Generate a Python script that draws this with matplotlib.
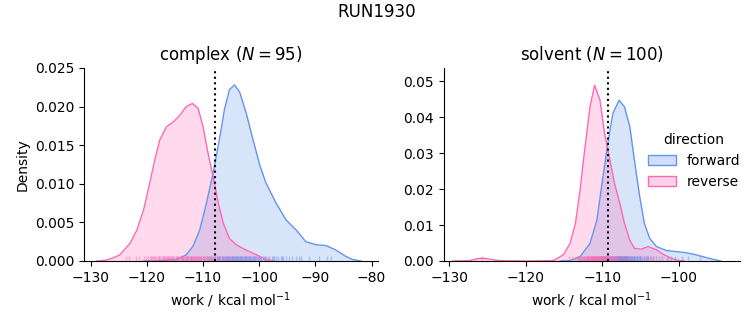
import matplotlib
matplotlib.use("Agg")
import matplotlib.pyplot as plt
import numpy as np
from matplotlib.patches import Patch

# colours for the two directions
colors = {"forward": "cornflowerblue", "reverse": "hotpink"}

# --- complex phase: KDE curves ---
cx_fwd_x = [-120.6, -118.9, -116.5, -114.7, -113.0, -111.8, -110.6, -109.4, -108.2,
            -107.0, -106.2, -105.3, -104.4, -103.5, -102.3, -101.1, -99.9, -98.8,
            -97.0, -95.2, -93.4, -91.7, -89.9, -88.1, -86.3, -84.6, -83.4, -81.9]
cx_fwd_y = [0.0, 0.0, 0.0001, 0.0002, 0.0008, 0.0019, 0.0040, 0.0075, 0.0114,
            0.0161, 0.0196, 0.0222, 0.0228, 0.0219, 0.0191, 0.0157, 0.0124, 0.0101,
            0.0075, 0.0053, 0.0040, 0.0025, 0.0021, 0.0020, 0.0014, 0.0006, 0.0002, 0.0]
cx_rev_x = [-128.9, -127.3, -126.0, -124.8, -123.0, -121.8, -120.6, -119.5, -118.6,
            -117.7, -116.5, -115.3, -114.1, -113.0, -111.9, -110.9, -110.0, -109.1,
            -108.2, -107.3, -106.4, -105.3, -104.1, -102.3, -100.5, -98.8, -97.4]
cx_rev_y = [0.0, 0.0001, 0.0004, 0.0008, 0.0023, 0.0040, 0.0066, 0.0101, 0.0131,
            0.0157, 0.0174, 0.0180, 0.0189, 0.0200, 0.0204, 0.0198, 0.0174, 0.0139,
            0.0109, 0.0075, 0.0049, 0.0029, 0.0021, 0.0014, 0.0008, 0.0002, 0.0]

# --- solvent phase: KDE curves ---
sv_fwd_x = [-115.5, -114.2, -112.9, -111.6, -110.7, -109.9, -109.2, -108.6, -107.8,
            -107.1, -106.4, -105.8, -105.1, -104.5, -103.8, -102.9, -101.6, -100.3,
            -99.0, -97.7, -96.5, -95.4, -94.5]
sv_fwd_y = [0.0, 0.0001, 0.0012, 0.0049, 0.0114, 0.0235, 0.0337, 0.0411, 0.0447,
            0.0429, 0.0374, 0.0281, 0.0179, 0.0105, 0.0063, 0.0040, 0.0029, 0.0026,
            0.0023, 0.0017, 0.0010, 0.0004, 0.0]
sv_rev_x = [-129.5, -127.3, -126.4, -125.6, -124.7, -123.4, -120.0, -116.4, -115.1,
            -114.2, -113.5, -112.9, -112.3, -111.6, -111.0, -110.3, -109.7, -109.0,
            -108.4, -107.7, -107.1, -106.4, -105.8, -104.9, -104.0, -102.9, -101.9,
            -100.8, -99.9, -99.3]
sv_rev_y = [0.0, 0.0001, 0.0006, 0.0008, 0.0005, 0.0001, 0.0, 0.0001, 0.0017,
            0.0049, 0.0105, 0.0198, 0.0309, 0.0429, 0.0489, 0.0448, 0.0355, 0.0281,
            0.0216, 0.0160, 0.0105, 0.0058, 0.0035, 0.0033, 0.0040, 0.0031, 0.0017,
            0.0006, 0.0001, 0.0]

# --- individual work values (rug ticks) ---
cx_fwd_work = [-113.6, -112.2, -111.0, -110.3, -109.8, -109.3, -108.9, -108.5, -108.2,
               -107.9, -107.6, -107.4, -107.1, -106.9, -106.7, -106.5, -106.3, -106.1,
               -105.9, -105.7, -105.5, -105.4, -105.2, -105.0, -104.9, -104.7, -104.6,
               -104.4, -104.3, -104.1, -104.0, -103.8, -103.7, -103.5, -103.4, -103.2,
               -103.1, -102.9, -102.8, -102.6, -102.4, -102.3, -102.1, -101.9, -101.7,
               -101.5, -101.3, -101.1, -100.9, -100.7, -100.5, -100.3, -100.1, -99.9,
               -99.6, -99.4, -99.1, -98.8, -98.5, -98.2, -97.8, -97.4, -97.0, -96.6,
               -96.2, -95.7, -95.2, -94.7, -94.1, -93.5, -92.9, -92.5, -91.1, -89.4,
               -87.9, -87.3, -106.0, -105.3, -104.8, -104.2, -103.6, -103.0, -102.5,
               -101.8, -101.0, -100.2, -99.0, -97.6, -96.0, -108.7, -107.3, -106.6,
               -105.6, -104.5, -102.0]
cx_rev_work = [-123.8, -123.2, -121.9, -121.5, -120.6, -120.2, -119.8, -119.5, -119.1,
               -118.9, -118.6, -118.3, -118.1, -117.8, -117.6, -117.4, -117.2, -117.0,
               -116.8, -116.6, -116.4, -116.2, -116.0, -115.8, -115.6, -115.5, -115.3,
               -115.1, -114.9, -114.7, -114.6, -114.4, -114.2, -114.0, -113.9, -113.7,
               -113.5, -113.4, -113.2, -113.0, -112.9, -112.7, -112.6, -112.4, -112.3,
               -112.1, -112.0, -111.8, -111.7, -111.5, -111.4, -111.2, -111.1, -110.9,
               -110.8, -110.6, -110.4, -110.3, -110.1, -109.9, -109.7, -109.5, -109.3,
               -109.1, -108.9, -108.6, -108.4, -108.1, -107.8, -107.5, -107.2, -106.9,
               -106.5, -106.1, -105.7, -105.2, -104.6, -104.0, -103.3, -102.5, -101.6,
               -100.6, -117.9, -116.9, -115.9, -114.8, -113.8, -112.8, -111.9, -110.7,
               -119.3, -118.8, -116.3, -113.1, -111.6]
sv_fwd_work = [-113.2, -112.4, -111.8, -111.3, -110.9, -110.6, -110.3, -110.0, -109.8,
               -109.6, -109.4, -109.2, -109.0, -108.9, -108.7, -108.6, -108.4, -108.3,
               -108.2, -108.0, -107.9, -107.8, -107.7, -107.6, -107.5, -107.4, -107.3,
               -107.2, -107.1, -107.0, -106.9, -106.8, -106.6, -106.5, -106.4, -106.2,
               -106.1, -105.9, -105.8, -105.6, -105.4, -105.2, -105.0, -104.8, -104.6,
               -104.3, -104.0, -103.6, -103.0, -102.2, -101.4, -100.5, -99.6, -98.8,
               -97.2, -109.7, -109.1, -108.8, -108.5, -108.1, -107.85, -107.65, -107.45,
               -107.25, -107.05, -106.85, -106.7, -106.3, -106.0, -105.7, -105.3, -104.9,
               -108.45, -108.15, -107.95, -107.55, -107.15, -106.75, -106.45, -105.5,
               -110.1, -109.5, -108.75, -107.35, -106.95, -106.55, -105.1, -104.5,
               -108.35, -107.75, -107.05, -106.15, -109.9, -108.05, -107.5, -106.9,
               -105.85, -104.2, -103.3, -101.0]
sv_rev_work = [-125.7, -114.3, -113.9, -113.6, -113.3, -113.1, -112.9, -112.7, -112.6,
               -112.4, -112.3, -112.1, -112.0, -111.9, -111.8, -111.7, -111.6, -111.5,
               -111.4, -111.3, -111.2, -111.1, -111.0, -110.9, -110.8, -110.7, -110.6,
               -110.5, -110.4, -110.3, -110.2, -110.1, -110.0, -109.9, -109.8, -109.7,
               -109.6, -109.5, -109.4, -109.3, -109.1, -109.0, -108.8, -108.7, -108.5,
               -108.3, -108.1, -107.9, -107.7, -107.4, -107.1, -106.8, -106.4, -105.9,
               -105.0, -104.3, -103.8, -103.3, -102.6, -101.5, -112.8, -112.2, -111.85,
               -111.55, -111.25, -110.95, -110.65, -110.35, -110.05, -109.75, -109.45,
               -109.2, -108.9, -108.6, -111.65, -111.35, -111.05, -110.75, -110.45,
               -110.15, -109.85, -109.55, -112.5, -111.95, -110.85, -110.25, -109.65,
               -109.05, -108.4, -107.8, -112.05, -111.45, -110.55, -109.95, -113.0,
               -111.15, -110.0, -108.2, -104.0, -107.0]

# free energy estimates (dotted lines)
cx_dg = -107.9
sv_dg = -109.2


def draw_phase(ax, curves, rugs, dg, title):
    for direction in ["forward", "reverse"]:
        x, y = curves[direction]
        c = colors[direction]
        ax.fill_between(x, y, color=c, alpha=0.25, linewidth=0)
        ax.plot(x, y, color=c, lw=1)
        ax.vlines(rugs[direction], 0, 0.025, transform=ax.get_xaxis_transform(),
                  color=c, lw=1, alpha=0.45)
    ax.axvline(dg, color="black", ls=":", lw=1.5)
    ax.set_title(title, fontsize=12)
    ax.set_xlabel("work / kcal mol$^{-1}$")
    ax.spines["top"].set_visible(False)
    ax.spines["right"].set_visible(False)


fig = plt.figure(figsize=(7.53, 3.25), dpi=100)
ax1 = fig.add_axes([0.1116, 0.197, 0.390, 0.594])
ax2 = fig.add_axes([0.5896, 0.197, 0.393, 0.594])

draw_phase(ax1, {"forward": (cx_fwd_x, cx_fwd_y), "reverse": (cx_rev_x, cx_rev_y)},
           {"forward": cx_fwd_work, "reverse": cx_rev_work}, cx_dg,
           "complex ($N = 95$)")
draw_phase(ax2, {"forward": (sv_fwd_x, sv_fwd_y), "reverse": (sv_rev_x, sv_rev_y)},
           {"forward": sv_fwd_work, "reverse": sv_rev_work}, sv_dg,
           "solvent ($N = 100$)")

ax1.set_xlim(-131.2, -78.9)
ax1.set_ylim(0, 0.025)
ax1.set_xticks([-130, -120, -110, -100, -90, -80])
ax1.set_yticks([0, 0.005, 0.01, 0.015, 0.02, 0.025])
ax1.yaxis.set_major_formatter(matplotlib.ticker.FormatStrFormatter("%.3f"))
ax1.set_ylabel("Density")

ax2.set_xlim(-130.7, -92.0)
ax2.set_ylim(0, 0.0537)
ax2.set_xticks([-130, -120, -110, -100])
ax2.set_yticks([0, 0.01, 0.02, 0.03, 0.04, 0.05])
ax2.yaxis.set_major_formatter(matplotlib.ticker.FormatStrFormatter("%.2f"))

handles = [Patch(facecolor=matplotlib.colors.to_rgba(colors[d], 0.3),
                 edgecolor=colors[d], lw=1) for d in ["forward", "reverse"]]
ax2.legend(handles, ["forward", "reverse"], title="direction", frameon=False,
           loc="center", bbox_to_anchor=(0.845, 0.52))

fig.suptitle("RUN1930", fontsize=12, y=0.99)
fig.savefig("out.png", dpi=100)
